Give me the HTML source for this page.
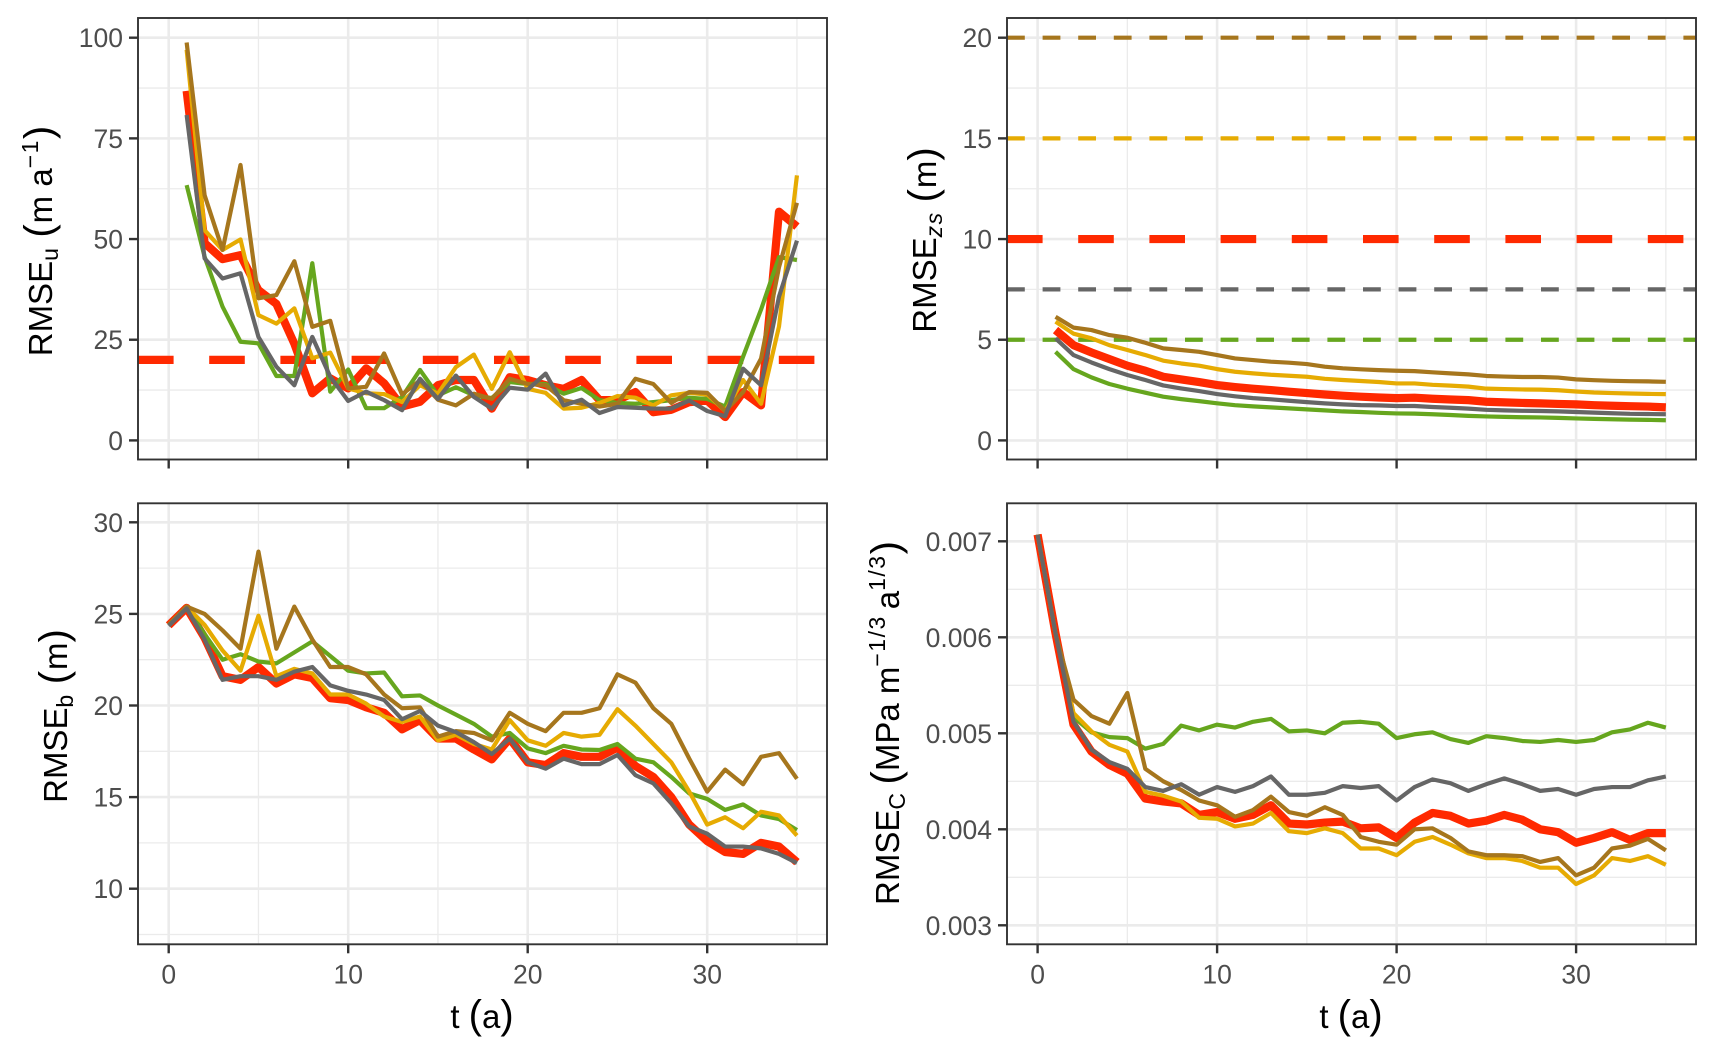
<!DOCTYPE html>
<html lang="en">
<head>
<meta charset="utf-8">
<title>RMSE over time</title>
<style>
html,body{margin:0;padding:0;background:#fff;width:1715px;height:1056px;overflow:hidden}
svg{display:block;font-family:"Liberation Sans",Arial,sans-serif}
.title{font-size:33px;fill:#000}
.sub{font-size:23px;letter-spacing:1.5px}
.paren{font-size:40px}
.tick{font-size:26.5px;fill:#4D4D4D}
</style>
</head>
<body>
<svg id="chart" xmlns="http://www.w3.org/2000/svg" width="1715" height="1056" viewBox="0 0 1715 1056">
  <rect width="1715" height="1056" fill="#fff"/>
  <g id="panel-u"></g>
  <g id="panel-zs"></g>
  <g id="panel-b"></g>
  <g id="panel-c"></g>

  <text class="title" transform="translate(52,241) rotate(-90)" text-anchor="middle">RMSE<tspan class="sub" dy="6">u</tspan><tspan class="paren" dx="9" dy="-6">(</tspan><tspan dx="1">m a</tspan><tspan class="sub" dy="-14">−1</tspan><tspan class="paren" dy="14">)</tspan></text>
  <text class="title" transform="translate(936,240) rotate(-90)" text-anchor="middle">RMSE<tspan class="sub" font-style="italic" dy="6">zs</tspan><tspan class="paren" dx="9" dy="-6">(</tspan><tspan dx="1">m</tspan><tspan class="paren">)</tspan></text>
  <text class="title" transform="translate(67,716) rotate(-90)" text-anchor="middle">RMSE<tspan class="sub" dy="6">b</tspan><tspan class="paren" dx="9" dy="-6">(</tspan><tspan dx="1">m</tspan><tspan class="paren">)</tspan></text>
  <text class="title" transform="translate(899,723) rotate(-90)" text-anchor="middle">RMSE<tspan class="sub" dy="6">C</tspan><tspan class="paren" dx="7" dy="-6">(</tspan><tspan>MPa m</tspan><tspan class="sub" dy="-14">−1/3</tspan><tspan dx="6" dy="14">a</tspan><tspan class="sub" dy="-14">1/3</tspan><tspan class="paren" dy="14">)</tspan></text>

  <text class="title" x="482" y="1028" text-anchor="middle">t <tspan class="paren">(</tspan>a<tspan class="paren">)</tspan></text>
  <text class="title" x="1351" y="1028" text-anchor="middle">t <tspan class="paren">(</tspan>a<tspan class="paren">)</tspan></text>
</svg>

<script>
// ---- Shared ticks ----
const xMajorTicks = [0, 10, 20, 30];
const xMinorTicks = [5, 15, 25, 35];
const xTickLabels = ["0", "10", "20", "30"];
const yearsFrom1 = [1,2,3,4,5,6,7,8,9,10,11,12,13,14,15,16,17,18,19,20,21,22,23,24,25,26,27,28,29,30,31,32,33,34,35];
const yearsFrom0 = [0,1,2,3,4,5,6,7,8,9,10,11,12,13,14,15,16,17,18,19,20,21,22,23,24,25,26,27,28,29,30,31,32,33,34,35];

// ---- RMSE_u (m/a) ----
const uYMajor = [0, 25, 50, 75, 100];
const uYMinor = [12.5, 37.5, 62.5, 87.5];
const uYLabels = ["0", "25", "50", "75", "100"];
const uThreshold = [20];
const uRed = [86.8,49,45,46,37.3,33.9,24,11.7,15.4,12.9,17.9,14.2,8.4,9.6,13.7,15,15,7.9,15.7,15,13.7,12.8,15,10,10,12,7,7.6,9.5,9.9,5.8,12,8.7,56.8,53.1];
const uGreen = [63.4,45.6,33.2,24.5,24.1,16,16,44,12.1,17.6,8,8,10.8,17.5,11.2,13.2,11.2,10.5,14.5,14,14,11.6,13,10,9.3,9.1,9.5,10,10.6,10.3,8.4,20.8,32.5,45.5,44.8];
const uGold = [97,52.2,47.3,49.9,31.1,29,32.8,20.4,21.8,12.9,11.7,11.5,9.5,13.7,11.6,18.2,21.3,12.8,21.9,12.8,11.8,7.9,8.1,9.3,11,10.6,8.7,11.2,11.8,11.4,7.3,15,9.1,28.3,65.8];
const uBrown = [98.8,60.9,47.3,68.4,35.3,36.1,44.5,28.2,29.7,12.9,13.3,21.6,11.4,14.9,10.1,8.7,11.6,10.3,15.3,14,13.7,10,9.1,8.4,9.1,15.3,14,9.3,12,11.8,7.3,12,20.3,43,59];
const uGrey = [80.8,45.2,40.2,41.5,25.7,18.3,13.7,25.7,15.8,9.8,12.1,10,7.5,15.3,10.3,16.1,10.8,7.9,13.1,12.6,16.6,8.7,10.1,6.8,8.3,8.1,7.9,7.9,9.9,7.3,6,17.8,13.7,35.7,49.6];

// ---- RMSE_zs (m) ----
const zsYMajor = [0, 5, 10, 15, 20];
const zsYMinor = [2.5, 7.5, 12.5, 17.5];
const zsYLabels = ["0", "5", "10", "15", "20"];
const zsThresholdGreen = [5];
const zsThresholdGrey = [7.5];
const zsThresholdRed = [10];
const zsThresholdGold = [15];
const zsThresholdBrown = [20];
const zsRed = [5.48,4.73,4.37,4.04,3.71,3.46,3.16,3.03,2.9,2.75,2.65,2.57,2.5,2.42,2.35,2.28,2.22,2.17,2.13,2.1,2.12,2.07,2.03,2,1.92,1.89,1.86,1.84,1.81,1.79,1.75,1.72,1.7,1.68,1.64];
const zsGreen = [4.4,3.54,3.13,2.8,2.57,2.37,2.17,2.05,1.95,1.84,1.75,1.69,1.64,1.59,1.54,1.49,1.44,1.41,1.37,1.34,1.33,1.3,1.26,1.22,1.19,1.17,1.15,1.14,1.12,1.09,1.07,1.05,1.03,1.02,1];
const zsGold = [5.9,5.3,5.07,4.73,4.49,4.24,3.96,3.82,3.71,3.54,3.41,3.33,3.26,3.21,3.16,3.06,3,2.95,2.9,2.83,2.83,2.76,2.72,2.67,2.57,2.55,2.53,2.52,2.49,2.43,2.38,2.35,2.33,2.31,2.3];
const zsBrown = [6.14,5.6,5.48,5.23,5.1,4.85,4.57,4.49,4.4,4.24,4.07,3.99,3.91,3.86,3.79,3.66,3.58,3.53,3.49,3.46,3.44,3.38,3.33,3.28,3.2,3.17,3.15,3.15,3.12,3.03,2.99,2.96,2.94,2.93,2.91];
const zsGrey = [5.07,4.24,3.87,3.54,3.25,3,2.73,2.58,2.45,2.3,2.19,2.1,2.04,1.97,1.9,1.84,1.79,1.75,1.74,1.71,1.71,1.66,1.62,1.58,1.52,1.49,1.47,1.46,1.44,1.41,1.38,1.35,1.32,1.31,1.3];

// ---- RMSE_b (m) ----
const bYMajor = [10, 15, 20, 25, 30];
const bYMinor = [7.5, 12.5, 17.5, 22.5, 27.5];
const bYLabels = ["10", "15", "20", "25", "30"];
const bRed = [24.38,25.33,23.7,21.6,21.4,22.1,21.2,21.7,21.5,20.4,20.3,19.9,19.6,18.7,19.2,18.2,18.2,17.6,17.06,18.2,16.9,16.75,17.4,17.2,17.2,17.7,16.7,16.1,15,13.5,12.6,12,11.9,12.5,12.3,11.45];
const bGreen = [24.4,25.4,23.9,22.5,22.8,22.4,22.3,22.9,23.5,22.7,21.9,21.75,21.8,20.5,20.55,20,19.5,19,18.3,18.5,17.66,17.4,17.8,17.6,17.57,17.9,17.1,16.9,16.1,15.2,14.9,14.3,14.6,14,13.8,13.2];
const bGold = [24.4,25.4,24.4,23,21.9,24.9,21.6,22,21.75,20.6,20.6,20.1,19.4,19.1,19.4,18.1,18.4,17.9,17.6,19.2,18.1,17.8,18.5,18.3,18.4,19.8,18.9,17.9,16.9,15.3,13.5,13.9,13.3,14.2,14,12.9];
const bBrown = [24.4,25.4,25,24.1,23.1,28.4,23.1,25.4,23.6,22.1,22.1,21.7,20.6,19.85,19.9,18.3,18.6,18.5,18.1,19.6,19,18.6,19.6,19.6,19.85,21.7,21.25,19.85,19,17.1,15.3,16.5,15.7,17.2,17.4,16];
const bGrey = [24.35,25.3,23.6,21.4,21.6,21.6,21.4,21.85,22.1,21.1,20.8,20.6,20.3,19.25,19.7,18.9,18.55,18,17.35,18.2,16.9,16.55,17.1,16.8,16.8,17.3,16.2,15.75,14.66,13.4,13,12.3,12.3,12.2,11.9,11.4];

// ---- RMSE_C (x 0.001) ----
const cYMajor = [3, 4, 5, 6, 7];
const cYMinor = [3.5, 4.5, 5.5, 6.5];
const cYLabels = ["0.003", "0.004", "0.005", "0.006", "0.007"];
const cRed = [7.07,6.04,5.09,4.81,4.67,4.58,4.32,4.29,4.27,4.15,4.18,4.11,4.15,4.25,4.06,4.05,4.07,4.08,4.01,4.02,3.91,4.07,4.17,4.14,4.06,4.09,4.15,4.1,4,3.97,3.86,3.91,3.97,3.89,3.96,3.96];
const cGreen = [7.07,6.04,5.17,5.01,4.96,4.95,4.84,4.89,5.08,5.03,5.09,5.06,5.12,5.15,5.02,5.03,5,5.11,5.12,5.1,4.95,4.99,5.01,4.94,4.9,4.97,4.95,4.92,4.91,4.93,4.91,4.93,5.01,5.04,5.11,5.06];
const cGold = [7.07,6.04,5.21,5.02,4.88,4.81,4.39,4.35,4.29,4.12,4.11,4.03,4.06,4.17,3.98,3.96,4.01,3.96,3.8,3.8,3.73,3.87,3.92,3.84,3.75,3.7,3.7,3.67,3.6,3.6,3.43,3.52,3.7,3.67,3.72,3.63];
const cBrown = [7.07,6.04,5.35,5.18,5.1,5.42,4.63,4.5,4.41,4.3,4.25,4.13,4.2,4.34,4.18,4.14,4.23,4.15,3.92,3.87,3.84,4,4.01,3.91,3.77,3.73,3.73,3.72,3.66,3.7,3.52,3.6,3.8,3.83,3.9,3.78];
const cGrey = [7.07,6.04,5.12,4.83,4.7,4.63,4.44,4.4,4.47,4.36,4.44,4.39,4.45,4.55,4.36,4.36,4.38,4.45,4.43,4.45,4.3,4.44,4.52,4.48,4.4,4.47,4.53,4.47,4.4,4.42,4.36,4.42,4.44,4.44,4.51,4.55];

const RED = "#FF2900", GREEN = "#66A61E", GOLD = "#E6AB02", BROWN = "#A6761D", GREY = "#666666";
const NS = "http://www.w3.org/2000/svg";

function node(tag, parent, attrs) {
  const el = document.createElementNS(NS, tag);
  for (const k in attrs) el.setAttribute(k, attrs[k]);
  parent.appendChild(el);
  return el;
}

function linearScale(d0, d1, r0, r1) {
  return v => r0 + (v - d0) * (r1 - r0) / (d1 - d0);
}

function drawPanel(cfg) {
  const g = document.getElementById(cfg.id);
  const x = linearScale(0, 10, cfg.x0, cfg.x0 + 179.5);
  const y = linearScale(cfg.yRef[0], cfg.yRef[1], cfg.yRefPx[0], cfg.yRefPx[1]);
  const left = cfg.left, right = cfg.right, top = cfg.top, bottom = cfg.bottom;

  const clip = node("clipPath", g, { id: cfg.id + "-clip" });
  node("rect", clip, { x: left, y: top, width: right - left, height: bottom - top });

  const grid = node("g", g, { "clip-path": "url(#" + cfg.id + "-clip)" });
  
  
  cfg.yMinor.forEach(v => {
    const l = node("line", grid, { x1: left, x2: right, y1: y(v), y2: y(v), stroke: "#EBEBEB", "stroke-width": 1.3 });
    
    
  });
  xMinorTicks.forEach(v => {
    const l = node("line", grid, { x1: x(v), x2: x(v), y1: top, y2: bottom, stroke: "#EBEBEB", "stroke-width": 1.3 });
    
    
  });
  cfg.yMajor.forEach(v => {
    const l = node("line", grid, { x1: left, x2: right, y1: y(v), y2: y(v), stroke: "#EBEBEB", "stroke-width": 2.6 });
    
    
  });
  xMajorTicks.forEach(v => {
    const l = node("line", grid, { x1: x(v), x2: x(v), y1: top, y2: bottom, stroke: "#EBEBEB", "stroke-width": 2.6 });
    
    
  });

  const marks = node("g", g, { "clip-path": "url(#" + cfg.id + "-clip)", fill: "none" });
  
  

  cfg.refs.forEach(r => {
    const dash = r.thick ? "35.6 35.6" : "17.8 17.8";
    const l = node("line", marks, { x1: left, x2: right, y1: y(r.values[0]), y2: y(r.values[0]), stroke: r.color, "stroke-width": r.thick ? 8.2 : 4.2, "stroke-dasharray": dash });
    
    
  });

  cfg.series.forEach(s => {
    const d = s.values.map((v, i) => (i ? "L" : "M") + x(cfg.years[i]).toFixed(2) + " " + y(v).toFixed(2)).join(" ");
    const p = node("path", marks, { d: d, stroke: s.color, "stroke-width": s.thick ? 8.2 : 4.2, "stroke-linejoin": "round", "stroke-linecap": "butt" });
    
    
  });

  const border = node("rect", g, { x: left, y: top, width: right - left, height: bottom - top, fill: "none", stroke: "#333333", "stroke-width": 1.9 });
  
  

  cfg.yMajor.forEach((v, i) => {
    const t = node("line", g, { x1: left - 9, x2: left, y1: y(v), y2: y(v), stroke: "#333333", "stroke-width": 2.4 });
    
    
    const lab = node("text", g, { x: left - 15, y: y(v) + 9.5, "text-anchor": "end", class: "tick" });
    
    
    lab.textContent = cfg.yLabels[i];
  });
  xMajorTicks.forEach((v, i) => {
    const t = node("line", g, { x1: x(v), x2: x(v), y1: bottom, y2: bottom + 9, stroke: "#333333", "stroke-width": 2.4 });
    
    
    if (cfg.xLabels) {
      const lab = node("text", g, { x: x(v), y: bottom + 39, "text-anchor": "middle", class: "tick" });
      
      
      lab.textContent = xTickLabels[i];
    }
  });
}

drawPanel({
  id: "panel-u", left: 138, right: 827, top: 18, bottom: 459.5, x0: 168.7, xLabels: false,
  yRef: [0, 100], yRefPx: [440.4, 37.7], yMajor: uYMajor, yMinor: uYMinor, yLabels: uYLabels, years: yearsFrom1,
  refs: [{ name: "red", values: uThreshold, color: RED, thick: true }],
  series: [
    { name: "red", values: uRed, color: RED, thick: true },
    { name: "green", values: uGreen, color: GREEN },
    { name: "gold", values: uGold, color: GOLD },
    { name: "brown", values: uBrown, color: BROWN },
    { name: "grey", values: uGrey, color: GREY }
  ]
});
drawPanel({
  id: "panel-zs", left: 1007, right: 1696, top: 18, bottom: 459.5, x0: 1037.6, xLabels: false,
  yRef: [0, 20], yRefPx: [440.4, 37.7], yMajor: zsYMajor, yMinor: zsYMinor, yLabels: zsYLabels, years: yearsFrom1,
  refs: [
    { name: "green", values: zsThresholdGreen, color: GREEN },
    { name: "grey", values: zsThresholdGrey, color: GREY },
    { name: "red", values: zsThresholdRed, color: RED, thick: true },
    { name: "gold", values: zsThresholdGold, color: GOLD },
    { name: "brown", values: zsThresholdBrown, color: BROWN }
  ],
  series: [
    { name: "red", values: zsRed, color: RED, thick: true },
    { name: "green", values: zsGreen, color: GREEN },
    { name: "gold", values: zsGold, color: GOLD },
    { name: "brown", values: zsBrown, color: BROWN },
    { name: "grey", values: zsGrey, color: GREY }
  ]
});
drawPanel({
  id: "panel-b", left: 138, right: 827, top: 503.3, bottom: 944.3, x0: 168.7, xLabels: true,
  yRef: [10, 30], yRefPx: [888.7, 522.3], yMajor: bYMajor, yMinor: bYMinor, yLabels: bYLabels, years: yearsFrom0,
  refs: [],
  series: [
    { name: "red", values: bRed, color: RED, thick: true },
    { name: "green", values: bGreen, color: GREEN },
    { name: "gold", values: bGold, color: GOLD },
    { name: "brown", values: bBrown, color: BROWN },
    { name: "grey", values: bGrey, color: GREY }
  ]
});
drawPanel({
  id: "panel-c", left: 1007, right: 1696, top: 503.3, bottom: 944.3, x0: 1037.6, xLabels: true,
  yRef: [3, 7], yRefPx: [925.3, 541.3], yMajor: cYMajor, yMinor: cYMinor, yLabels: cYLabels, years: yearsFrom0,
  refs: [],
  series: [
    { name: "red", values: cRed, color: RED, thick: true },
    { name: "green", values: cGreen, color: GREEN },
    { name: "gold", values: cGold, color: GOLD },
    { name: "brown", values: cBrown, color: BROWN },
    { name: "grey", values: cGrey, color: GREY }
  ]
});
</script>
</body>
</html>
